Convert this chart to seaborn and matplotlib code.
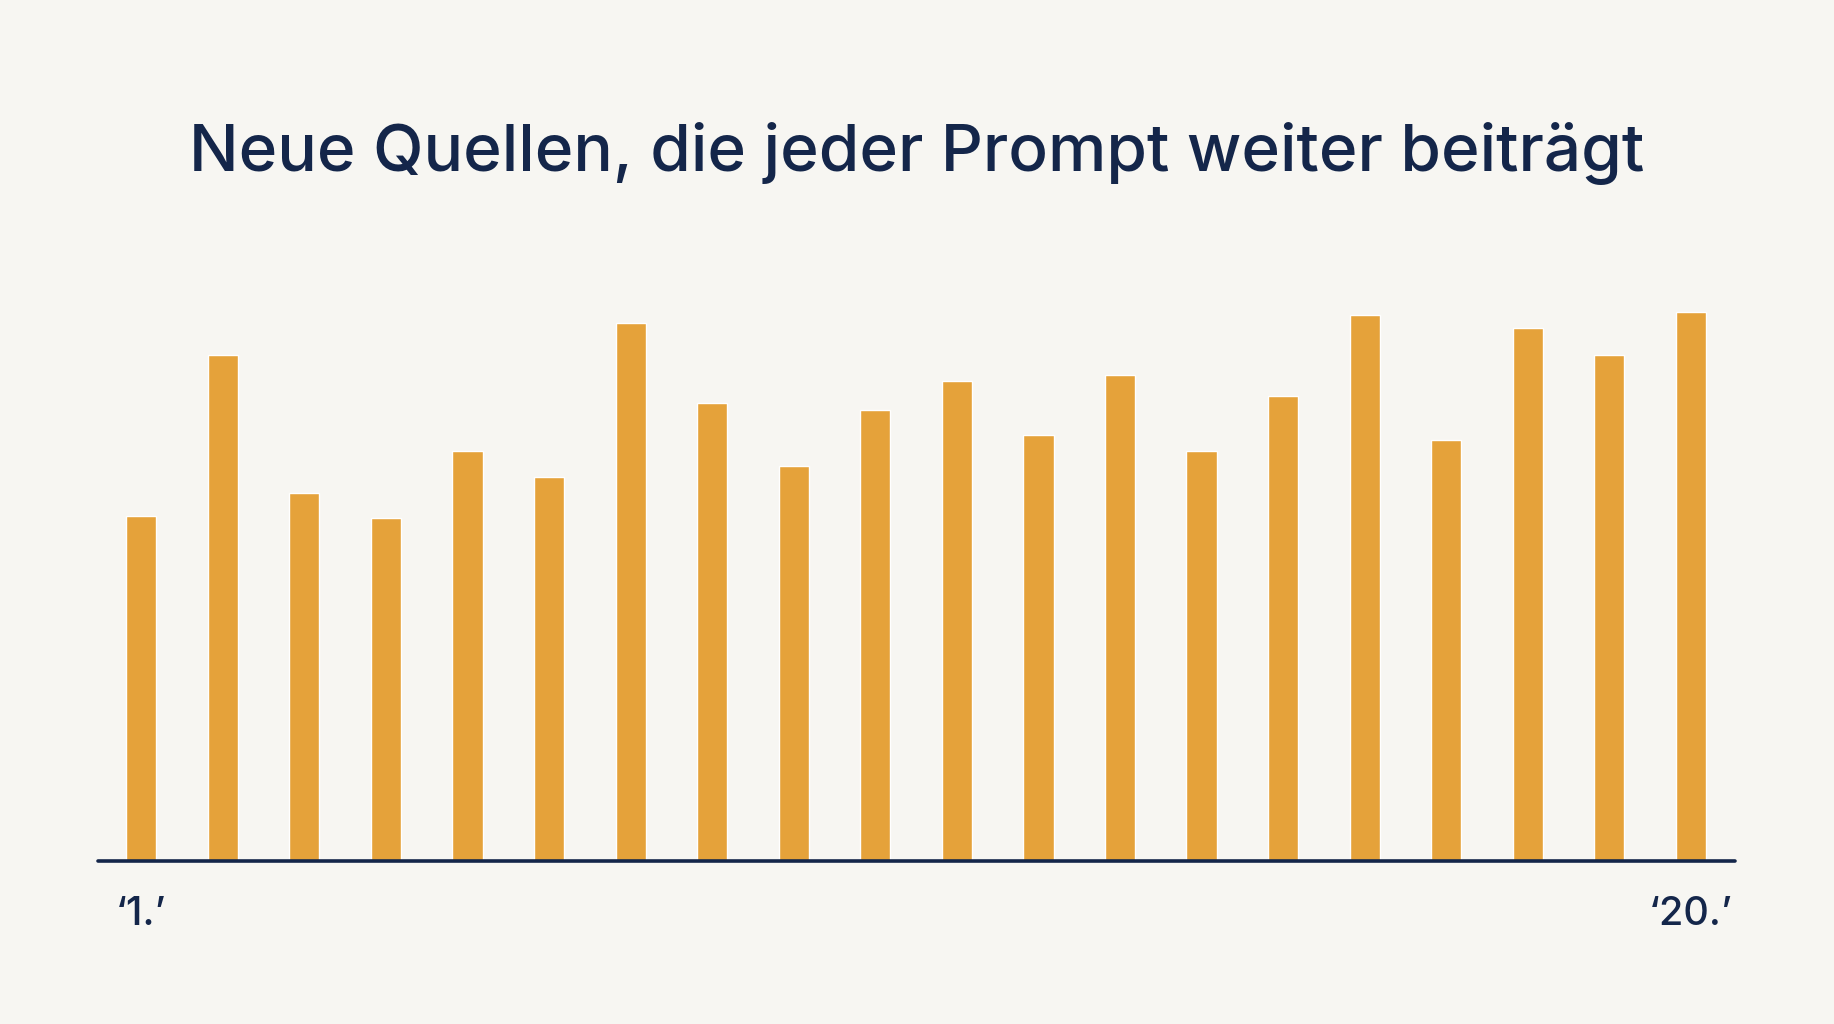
import pandas as pd
import matplotlib.pyplot as plt
import seaborn as sns

# new sources per prompt
prompts = list(range(1, 21))
new_sources = [34.5, 50.6, 36.8, 34.3, 41.0, 38.4, 53.8, 45.8, 39.5, 45.1,
               48.0, 42.6, 48.6, 41.0, 46.5, 54.6, 42.1, 53.3, 50.6, 54.9]
tick_positions = [0, 19]
tick_labels = ["\u20181.\u2019", "\u201820.\u2019"]
title = "Neue Quellen, die jeder Prompt weiter beiträgt"

BG = "#f7f6f2"
BAR = "#e5a23a"
NAVY = "#14264a"

sns.set_theme(style="white")
plt.rcParams['font.family'] = ['Inter', 'DejaVu Sans']

df = pd.DataFrame({"prompt": prompts, "quellen": new_sources})

fig = plt.figure(figsize=(18.34, 10.24), dpi=100, facecolor=BG)
ax = fig.add_axes([98 / 1834, 163 / 1024, (1735 - 98) / 1834, 561 / 1024])
ax.set_facecolor(BG)

sns.barplot(data=df, x="prompt", y="quellen", color=BAR, width=0.37,
            saturation=1, ax=ax)

ax.set_xlim(-0.53, 19.54)
ax.set_ylim(0, 56.1)

for side in ["top", "right", "left"]:
    ax.spines[side].set_visible(False)
ax.spines["bottom"].set_color(NAVY)
ax.spines["bottom"].set_linewidth(2.6)
ax.spines["bottom"].set_capstyle("round")

ax.set_yticks([])
ax.set_xticks(tick_positions, tick_labels)
ax.tick_params(axis='x', length=0, pad=25, labelsize=28.5, labelcolor=NAVY)
for lbl in ax.get_xticklabels():
    lbl.set_fontweight('medium')
ax.set_xlabel("")
ax.set_ylabel("")

fig.text(0.5, 1 - 171 / 1024, title, ha='center', va='baseline',
         fontsize=47.3, color=NAVY, fontweight='medium')

fig.savefig("out.png", dpi=100, facecolor=BG)
plt.close(fig)
